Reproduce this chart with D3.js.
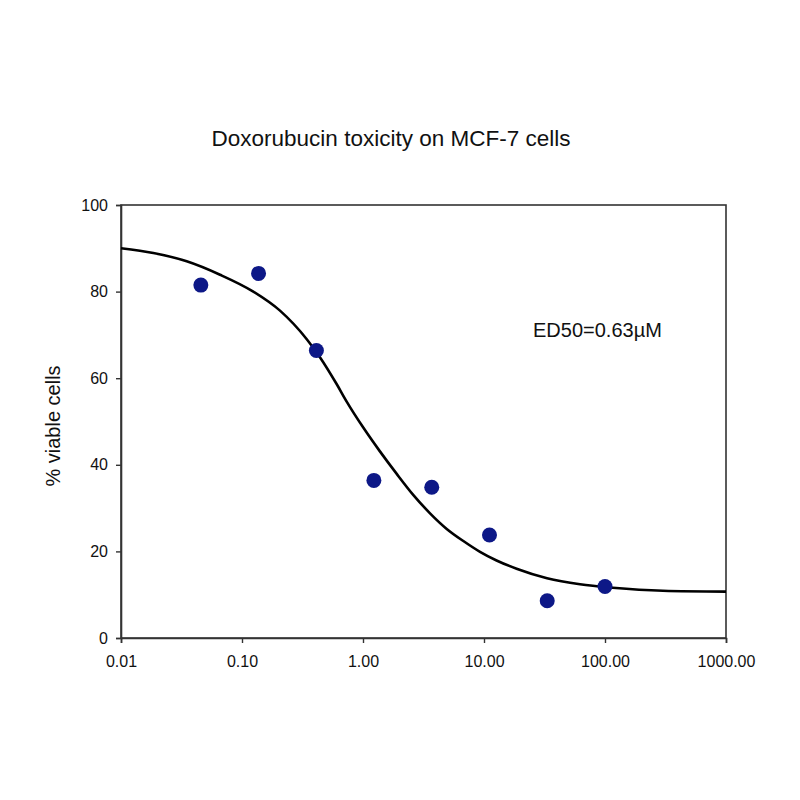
<!DOCTYPE html>
<html>
<head>
<meta charset="utf-8">
<script src="https://cdn.jsdelivr.net/npm/d3@7"></script>
<style>
  body { margin: 0; background: #fff; }
  text { font-family: Arial, "Liberation Sans", sans-serif; fill: #111; }
</style>
</head>
<body>
<div id="chart"></div>
<script>
// measured points (concentration in uM, % viable)
const doses = [0.0457, 0.137, 0.412, 1.23, 3.70, 11.1, 33.3, 100];
const viable = [81.5, 84.2, 66.4, 36.4, 34.8, 23.8, 8.6, 11.9];

// fitted curve
const fitDoses = [0.01, 0.0185, 0.0349, 0.0658, 0.124, 0.206, 0.343, 0.442, 0.607, 0.733,
  1.005, 1.38, 1.90, 2.61, 3.58, 4.92, 6.75, 9.27, 12.7, 18.6, 33.2, 62.1, 116, 301, 1000];
const fitViable = [90.0, 88.9, 87.0, 83.9, 80.0, 75.6, 69.0, 64.8, 58.6, 54.6,
  48.6, 43.1, 37.9, 33.0, 28.8, 25.2, 22.4, 19.9, 17.9, 16.0, 13.8, 12.4, 11.6, 10.9, 10.7];

const xTicks = [0.01, 0.1, 1, 10, 100, 1000];
const yTicks = [0, 20, 40, 60, 80, 100];

const W = 800, H = 800;
const m = {left: 121, right: 74, top: 205, bottom: 162};
const w = W - m.left - m.right, h = H - m.top - m.bottom;

const svg = d3.select("#chart").append("svg")
  .attr("width", W)
  .attr("height", H);

const x = d3.scaleLog().domain([0.01, 1000]).range([0, w]);
const y = d3.scaleLinear().domain([0, 100]).range([h, 0]);

const g = svg.append("g").attr("transform", "translate(" + m.left + "," + m.top + ")");

svg.append("text")
  .attr("x", 391)
  .attr("y", 146)
  .attr("text-anchor", "middle")
  .attr("font-size", "22.5px")
  .text("Doxorubucin toxicity on MCF-7 cells");

// frame
g.append("rect")
  .attr("width", w)
  .attr("height", h)
  .attr("fill", "none")
  .attr("stroke", "#333")
  .attr("stroke-width", 1.6);

const xAxis = g.append("g")
  .attr("transform", "translate(0," + h + ")")
  .call(d3.axisBottom(x).tickValues(xTicks).tickFormat(d3.format(".2f")).tickSize(5).tickPadding(13));

const yAxis = g.append("g")
  .call(d3.axisLeft(y).tickValues(yTicks).tickSize(5).tickPadding(8));

[xAxis, yAxis].forEach(a => {
  a.select(".domain").attr("stroke", "#333").attr("stroke-width", 1.6);
  a.selectAll(".tick line").attr("stroke", "#333").attr("stroke-width", 1.4);
  a.selectAll(".tick text").attr("font-size", "16px").attr("fill", "#111")
    .attr("font-family", "Arial, 'Liberation Sans', sans-serif");
});

svg.append("text")
  .attr("transform", "translate(60,426) rotate(-90)")
  .attr("text-anchor", "middle")
  .attr("font-size", "20px")
  .text("% viable cells");

const line = d3.line()
  .x(d => x(d[0]))
  .y(d => y(d[1]))
  .curve(d3.curveMonotoneX);

g.append("path")
  .datum(fitDoses.map((d, i) => [d, fitViable[i]]))
  .attr("d", line)
  .attr("fill", "none")
  .attr("stroke", "#000")
  .attr("stroke-width", 2.6);

g.selectAll("circle")
  .data(doses.map((d, i) => [d, viable[i]]))
  .enter()
  .append("circle")
  .attr("cx", d => x(d[0]))
  .attr("cy", d => y(d[1]))
  .attr("r", 7.5)
  .attr("fill", "#0d1887");

g.append("text")
  .attr("x", 412)
  .attr("y", 132)
  .attr("font-size", "20px")
  .text("ED50=0.63\u00b5M");
</script>
</body>
</html>
